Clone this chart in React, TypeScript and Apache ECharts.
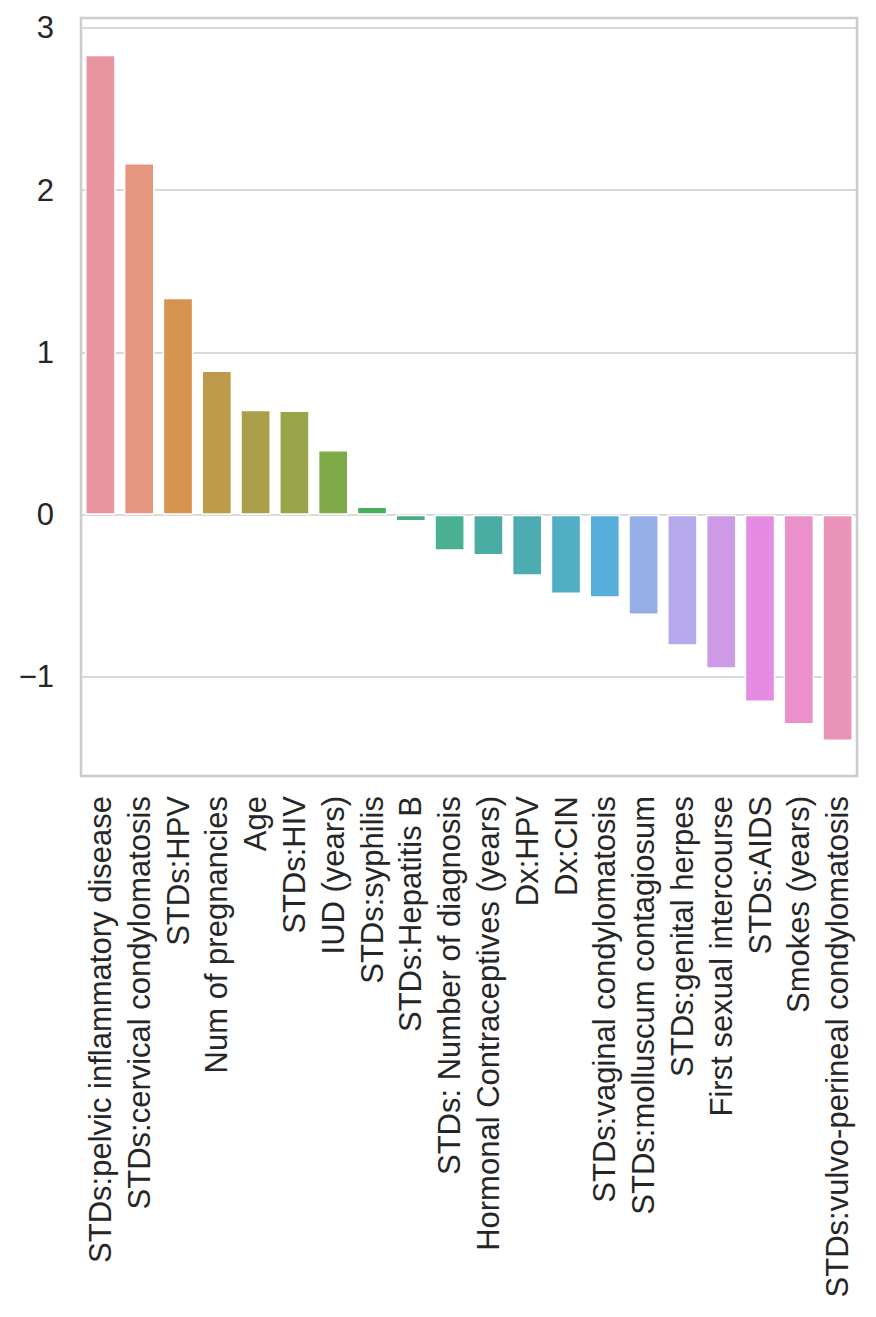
import React, { useEffect, useRef } from "react";
import * as echarts from "echarts";

const categories = [
  "STDs:pelvic inflammatory disease",
  "STDs:cervical condylomatosis",
  "STDs:HPV",
  "Num of pregnancies",
  "Age",
  "STDs:HIV",
  "IUD (years)",
  "STDs:syphilis",
  "STDs:Hepatitis B",
  "STDs: Number of diagnosis",
  "Hormonal Contraceptives (years)",
  "Dx:HPV",
  "Dx:CIN",
  "STDs:vaginal condylomatosis",
  "STDs:molluscum contagiosum",
  "STDs:genital herpes",
  "First sexual intercourse",
  "STDs:AIDS",
  "Smokes (years)",
  "STDs:vulvo-perineal condylomatosis",
];

const values = [
  2.834, 2.167, 1.336, 0.888, 0.647, 0.642, 0.398, 0.05, -0.042, -0.222,
  -0.252, -0.377, -0.488, -0.512, -0.618, -0.807, -0.95, -1.154, -1.292, -1.395,
];

const barColors = [
  "#E8959F", "#E5967F", "#D6944F", "#BE9A4B", "#AB9E48",
  "#99A449", "#7FAA48", "#48B05A", "#49AE82", "#4AB092",
  "#4AACA3", "#4DACB1", "#51AEC4", "#57ADDB", "#95AFE6",
  "#B6A9EB", "#CE9AE6", "#E68BE3", "#EA90CB", "#EA93B9",
];

const yTicks = [-1, 0, 1, 2, 3];

export default function App() {
  const ref = useRef<HTMLDivElement>(null);
  useEffect(() => {
    if (!ref.current) return;
    const chart = echarts.init(ref.current, null, { renderer: "svg" });
    const font = "'Liberation Sans', Arial, sans-serif";
    chart.setOption({
      animation: false,
      backgroundColor: "#ffffff",
      grid: {
        left: 81,
        right: 19,
        top: 18,
        bottom: 541,
        show: true,
        borderColor: "#cccccc",
        borderWidth: 2.5,
        backgroundColor: "transparent",
      },
      xAxis: {
        type: "category",
        data: categories,
        axisLine: { show: false },
        axisTick: { show: false },
        splitLine: { show: false },
        axisLabel: {
          interval: 0,
          rotate: 90,
          fontSize: 31,
          fontFamily: font,
          color: "#262626",
          margin: 20,
        },
      },
      yAxis: {
        type: "value",
        min: -1.61,
        max: 3.06,
        axisLine: { show: false },
        axisTick: { show: false, customValues: yTicks },
        splitLine: { show: true, lineStyle: { color: "#cccccc", width: 1.6 } },
        axisLabel: {
          customValues: yTicks,
          fontSize: 31,
          fontFamily: font,
          color: "#262626",
          margin: 27,
          formatter: (v: number) => String(v).replace("-", "\u2212"),
        },
      },
      series: [
        {
          type: "bar",
          barWidth: "79%",
          data: values.map((v, i) => ({
            value: v,
            itemStyle: { color: barColors[i], borderColor: "#ffffff", borderWidth: 1.5 },
          })),
        },
      ],
    });
    return () => chart.dispose();
  }, []);
  return (
    <div
      ref={ref}
      style={{ position: "absolute", left: 0, top: 0, width: 876, height: 1317 }}
    />
  );
}
